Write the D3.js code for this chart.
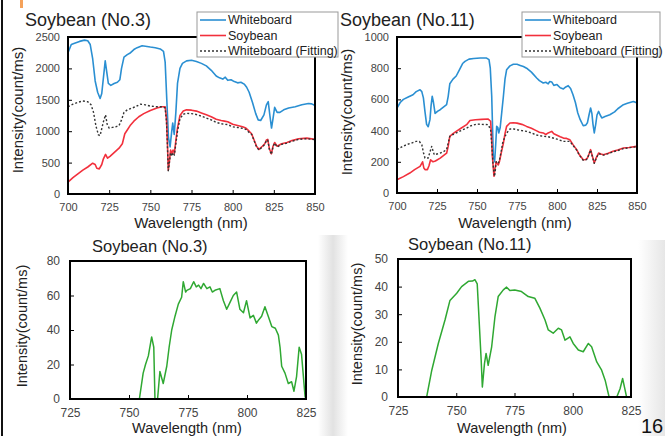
<!DOCTYPE html>
<html lang="en">
<head>
<meta charset="UTF-8">
<title>Soybean spectra</title>
<script src="https://d3js.org/d3.v7.min.js"></script>
<style>
  body { margin: 0; background: #fff; }
  svg { display: block; font-family: "Liberation Sans", Arial, sans-serif; }
  .tick text { fill: #444; }
</style>
</head>
<body>
<svg id="chart" width="665" height="436"></svg>
<script>
// ---- data: [wavelength (nm), intensity (count/ms)] ----
var no3Whiteboard = [[700,2250],[702,2380],[704,2400],[707,2430],[710,2450],[712,2440],[713.5,2380],[715,2150],[716.5,1800],[718,1620],[719.5,1520],[720.5,1600],[721.5,1850],[722.6,2120],[723.5,1950],[724.5,1760],[726,1730],[728,1760],[730,1780],[731.5,1820],[732.5,2000],[734,2180],[736,2220],[738,2250],[740,2300],[742,2330],[745,2360],[748,2350],[750,2340],[753,2330],[756,2310],[758,2270],[759,2100],[760,1500],[761,900],[762,750],[763,1000],[763.6,1130],[764.5,950],[765.5,1300],[766.5,1760],[768,2000],[769.5,2080],[772,2120],[775,2130],[778,2110],[781,2080],[784,2040],[787,1970],[790,1880],[792,1850],[794,1830],[795.5,1860],[797,1810],[799,1820],[801,1790],[803,1770],[805,1780],[807,1750],[808.5,1700],[810,1620],[812,1460],[814,1280],[815.5,1180],[817,1170],[819,1260],[820.5,1420],[821.6,1470],[822.6,1250],[823.6,1050],[824.5,1200],[825.5,1380],[827,1300],[828.7,1300],[831,1340],[834,1370],[838,1390],[842,1420],[846,1440],[848,1435],[850,1410]];
var no3Soybean = [[700,190],[703,260],[706,320],[709,380],[712,430],[715,490],[716.5,470],[717.5,410],[719,400],[720.5,470],[721.5,560],[722.8,630],[724,570],[725.5,600],[728,660],[731,730],[733,800],[734.5,960],[736,1020],[738,1100],[740,1160],[743,1230],[746,1280],[750,1330],[754,1370],[757,1390],[759,1390],[759.8,1200],[760.4,800],[760.9,380],[761.5,500],[762.3,700],[763,640],[763.8,700],[764.6,650],[765.5,850],[766.5,1050],[768,1250],[770,1320],[772,1340],[775,1335],[778,1320],[781,1290],[784,1260],[787,1230],[790,1190],[793,1170],[795,1160],[797,1150],[800,1110],[803,1090],[806,1070],[808,1050],[810,1000],[811.5,960],[813,860],[814.5,760],[816,710],[818,760],[819.5,800],[820.5,860],[821.3,870],[822.3,720],[823.5,640],[824.5,760],[825.5,820],[827,760],[829.7,800],[833,820],[836,850],[840,880],[845,890],[850,870]];
var no3Fitting = [[700,1390],[703,1430],[706,1460],[709,1480],[712,1470],[714,1420],[715.5,1300],[717,1080],[718.5,940],[719.5,930],[720.5,1040],[721.5,1150],[722.8,1260],[723.8,1110],[725,1050],[727,1060],[729,1070],[731,1090],[732.5,1180],[734,1300],[736,1340],[738,1360],[741,1390],[744,1430],[747,1420],[750,1400],[754,1390],[757,1390],[759,1370],[759.8,1150],[760.4,750],[760.9,370],[761.5,480],[762.3,660],[763,600],[763.8,660],[764.6,620],[765.5,800],[766.5,1000],[768,1200],[770,1270],[772,1285],[775,1280],[778,1265],[781,1240],[784,1210],[787,1180],[790,1140],[793,1120],[795,1110],[797,1105],[800,1070],[803,1060],[806,1045],[808,1030],[810,980],[811.5,950],[813,850],[814.5,750],[816,700],[818,750],[819.5,790],[820.5,850],[821.3,860],[822.3,710],[823.5,630],[824.5,750],[825.5,810],[827,750],[829.7,790],[833,810],[836,840],[840,870],[845,880],[850,865]];

var no11Whiteboard = [[700,545],[702,580],[704,600],[707,615],[710,630],[712,650],[714.4,662],[715.5,650],[716.5,610],[717.5,520],[718.5,440],[719.5,425],[720.6,470],[721.3,560],[722,620],[722.8,580],[723.8,510],[725.5,525],[727,534],[729,550],[731,566],[732,620],[733,700],[735,730],[737,750],[739,790],[741,830],[742.5,844],[745,858],[748,862],[752,865],[756,865],[757.5,855],[758.3,800],[759.2,620],[760.2,235],[761,200],[761.8,330],[762.3,427],[763,420],[763.6,385],[764.5,420],[765.5,520],[766.5,620],[767.5,730],[768.5,790],[770.6,815],[772.7,825],[775,825],[777,818],[779,811],[781,800],[784,775],[787.3,737],[789,720],[791.4,705],[793,710],[794.5,700],[795.5,715],[796.7,712],[798,690],[800,695],[802,675],[804,667],[805.5,680],[807,688],[808.5,670],[810,630],[811.5,580],[813,513],[814.5,470],[816.4,431],[818,435],[819,450],[820,500],[821,545],[821.8,510],[822.5,440],[823.3,385],[824.2,440],[825,500],[826,523],[827,500],[828,481],[830,490],[833,502],[836,520],[838,540],[841.5,566],[844,575],[847.7,587],[849,582],[850,575]];
var no11Soybean = [[700,85],[704,105],[708,128],[711,150],[714.4,171],[716,200],[716.8,160],[717.5,150],[719,150],[720,175],[721,213],[722.5,200],[724,205],[727,224],[729,240],[731,255],[732,300],[733,363],[735,380],[737,395],[740,415],[743.5,438],[745.6,465],[749,470],[753,472],[757,474],[758.5,460],[759,380],[759.6,235],[760.6,107],[761.3,160],[762,200],[762.6,190],[763.3,180],[764,200],[765,250],[766.5,320],[767.5,380],[768.5,427],[770.6,449],[772.7,450],[775,448],[778,440],[781,427],[784,415],[787,400],[789,390],[791.4,385],[793,375],[794.5,385],[796.7,395],[798,380],[800,370],[802,360],[804,352],[806,350],[808,342],[810,310],[812.3,278],[814,245],[816.4,213],[818,215],[819,224],[820,250],[821,278],[822,240],[823.3,192],[824.5,225],[826,256],[827.5,250],[829,245],[832,255],[835,267],[838,275],[841.5,288],[845,292],[849.7,299],[850,295]];
var no11Fitting = [[700,278],[703,295],[706,310],[709,320],[712,331],[714,330],[715.5,310],[716.5,260],[717.5,224],[719.5,224],[720.5,260],[721.7,299],[722.5,270],[723.3,245],[725,250],[727,256],[729,265],[731,278],[732,320],[733,363],[735,375],[737,385],[740,400],[743.5,416],[746,430],[749.8,442],[753,440],[757,438],[758.5,406],[759.3,300],[760,190],[760.6,130],[761,107],[761.5,150],[762,200],[762.6,195],[763.3,190],[764,210],[765,260],[766,320],[767.5,363],[769,390],[770.6,410],[773,410],[775,406],[778,400],[781,395],[784,385],[787,372],[791.4,363],[794,362],[796.7,355],[800,345],[804,331],[808,331],[810,305],[812.3,275],[814,242],[816.4,210],[818,212],[819,220],[820,248],[821,275],[822,237],[823.3,190],[824.5,222],[826,252],[827.5,247],[829,243],[832,252],[835,264],[838,272],[841.5,285],[845,290],[849.7,297],[850,293]];

var no3Difference = [[754.4,0],[756,15],[757,20],[758.2,25],[759.6,36],[760.5,30],[761,0],[762.1,0],[763.1,16],[764.5,9],[766,19],[767,30],[768.1,40],[769.5,48],[770.9,55],[772.3,59],[773,68],[774,62],[774.5,63],[776,64],[777.4,68],[778.5,65],[779.5,66],[780.5,64],[781.6,67],[783,64],[784.3,65],[785.3,62],[786.4,63],[788.5,64],[790,57],[791.4,52],[792.8,56],[794.2,60],[795.6,62],[797,52],[798.5,50],[799.8,57],[801.3,47],[802.7,48.5],[804,44],[805,46],[806.2,48],[807.6,53.5],[809,48],[810.5,42],[812,41],[813.3,37],[814,30],[814.7,19],[816.1,15],[817.5,9],[818.9,10],[819.9,4.5],[821,13],[822.1,30],[823.1,26],[824.6,1.5],[825,0]];
var no11Difference = [[737.3,0],[739.5,9.7],[742.3,19.4],[745.2,28],[747.3,35],[750.2,37.6],[752.3,40],[755.2,41.9],[757,42],[758,42.5],[759,41],[759.8,28],[760.7,13.3],[761.2,3.6],[762.1,12],[762.8,15.8],[763.7,11.5],[765.2,18.2],[766.6,29],[768,36.4],[770.2,38.8],[771.6,39.8],[773,38.6],[775.1,38.8],[778,38.2],[780.9,36.4],[783.7,35.8],[785.9,32.2],[788.1,27.9],[789.5,24.3],[791.6,23.1],[793.8,24.9],[795.2,24.3],[796.7,20.6],[798.8,21.8],[800.2,19.4],[802.4,17],[804.5,16.4],[806.7,19.4],[808.1,18.2],[810.3,12.7],[812.4,9.7],[813.9,6.1],[815.6,0],[818.9,0],[820.3,3],[821.4,6.7],[822.5,2.4],[823.1,0]];

var topXTicks = [700, 725, 750, 775, 800, 825, 850];
var bottomXTicks = [725, 750, 775, 800, 825];
var legendNames = ["Whiteboard", "Soybean", "Whiteboard (Fitting)"];

var svg = d3.select("#chart");

// slide background bits
var defs = svg.append("defs");
var g1 = defs.append("linearGradient").attr("id", "band");
g1.append("stop").attr("offset", "0%").attr("stop-color", "#fff");
g1.append("stop").attr("offset", "50%").attr("stop-color", "#e2e2e2");
g1.append("stop").attr("offset", "100%").attr("stop-color", "#fff");
var g2 = defs.append("linearGradient").attr("id", "edge");
g2.append("stop").attr("offset", "0%").attr("stop-color", "#fff");
g2.append("stop").attr("offset", "100%").attr("stop-color", "#e6e6e6");
svg.append("rect").attr("x", 318).attr("y", 235).attr("width", 30).attr("height", 201).attr("fill", "url(#band)");
svg.append("rect").attr("x", 638).attr("y", 240).attr("width", 27).attr("height", 196).attr("fill", "url(#edge)");
svg.append("rect").attr("x", 1).attr("y", 0).attr("width", 2).attr("height", 436).attr("fill", "#111");
svg.append("rect").attr("x", 20).attr("y", 0).attr("width", 3).attr("height", 8).attr("fill", "#f5a25a");

function drawPanel(p) {
  var x = d3.scaleLinear().domain(p.xDomain).range([p.left, p.right]);
  var y = d3.scaleLinear().domain(p.yDomain).range([p.bottom, p.top]);
  var g = svg.append("g");

  g.append("g")
    .attr("transform", "translate(0," + p.bottom + ")")
    .call(d3.axisBottom(x).tickValues(p.xTicks).tickSize(-4).tickPadding(p.xPad).tickFormat(d3.format("d")))
    .call(function(a) { a.select(".domain").remove(); })
    .selectAll("text").style("font-size", p.tickFont + "px");
  g.append("g")
    .attr("transform", "translate(" + p.left + ",0)")
    .call(d3.axisLeft(y).tickValues(p.yTicks).tickSize(-4).tickPadding(p.yPad).tickFormat(d3.format("d")))
    .call(function(a) { a.select(".domain").remove(); })
    .selectAll("text").style("font-size", p.tickFont + "px");

  var clipId = "clip" + p.id;
  defs.append("clipPath").attr("id", clipId).append("rect")
    .attr("x", p.left).attr("y", p.top).attr("width", p.right - p.left).attr("height", p.bottom - p.top);

  var line = d3.line().x(function(d) { return x(d[0]); }).y(function(d) { return y(d[1]); });
  p.series.forEach(function(s) {
    g.append("path")
      .datum(s.data)
      .attr("clip-path", "url(#" + clipId + ")")
      .attr("fill", "none")
      .attr("stroke", s.color)
      .attr("stroke-width", s.width)
      .attr("stroke-dasharray", s.dash || null)
      .attr("stroke-linejoin", "round")
      .attr("d", line);
  });

  g.append("rect")
    .attr("x", p.left).attr("y", p.top)
    .attr("width", p.right - p.left).attr("height", p.bottom - p.top)
    .attr("fill", "none").attr("stroke", "#000").attr("stroke-width", 2);

  g.append("text").attr("x", p.titleX).attr("y", p.titleY)
    .style("font-size", p.titleFont + "px").attr("fill", "#222").text(p.title);
  g.append("text")
    .attr("transform", "translate(" + p.yLabelX + "," + p.yLabelY + ") rotate(-90)")
    .attr("text-anchor", "middle").attr("dy", "0.35em")
    .style("font-size", p.labelFont + "px").attr("fill", "#222")
    .text("Intensity(count/ms)");
  g.append("text").attr("x", p.xLabelX).attr("y", p.xLabelY)
    .attr("text-anchor", "middle")
    .style("font-size", p.labelFont + "px").attr("fill", "#222")
    .text("Wavelength (nm)");

  if (p.legend) {
    var lg = svg.append("g").attr("transform", "translate(" + p.legend.x + "," + p.legend.y + ")");
    lg.append("rect").attr("width", p.legend.w).attr("height", 45)
      .attr("fill", "#fff").attr("stroke", "#999").attr("stroke-width", 1);
    p.series.forEach(function(s, i) {
      var yy = 8 + i * 15.5;
      lg.append("line").attr("x1", 3).attr("x2", 29).attr("y1", yy).attr("y2", yy)
        .attr("stroke", s.color).attr("stroke-width", s.width).attr("stroke-dasharray", s.dash || null);
      lg.append("text").attr("x", 31).attr("y", yy).attr("dy", "0.35em")
        .style("font-size", "12.5px").attr("fill", "#222").text(legendNames[i]);
    });
  }
}

var blue = "#2a8fd2", red = "#f2303c", black = "#333", green = "#2fa832";

drawPanel({
  id: 1, left: 68, right: 315, top: 37, bottom: 194,
  xDomain: [700, 850], yDomain: [0, 2500], xTicks: topXTicks, yTicks: d3.range(0, 2501, 500),
  tickFont: 11, xPad: 9, yPad: 8,
  title: "Soybean (No.3)", titleX: 25, titleY: 26, titleFont: 18,
  yLabelX: 18, yLabelY: 110, xLabelX: 191, xLabelY: 228, labelFont: 15,
  series: [
    { data: no3Whiteboard, color: blue, width: 1.6 },
    { data: no3Soybean, color: red, width: 1.6 },
    { data: no3Fitting, color: black, width: 1.4, dash: "2,2" }
  ],
  legend: { x: 197, y: 12, w: 141 }
});

drawPanel({
  id: 2, left: 397, right: 637, top: 37, bottom: 193,
  xDomain: [700, 850], yDomain: [0, 1000], xTicks: topXTicks, yTicks: d3.range(0, 1001, 200),
  tickFont: 11, xPad: 9, yPad: 8,
  title: "Soybean (No.11)", titleX: 340, titleY: 26, titleFont: 18,
  yLabelX: 347, yLabelY: 112, xLabelX: 515, xLabelY: 228, labelFont: 15,
  series: [
    { data: no11Whiteboard, color: blue, width: 1.6 },
    { data: no11Soybean, color: red, width: 1.6 },
    { data: no11Fitting, color: black, width: 1.4, dash: "2,2" }
  ],
  legend: { x: 522, y: 12, w: 138 }
});

drawPanel({
  id: 3, left: 70, right: 306, top: 261, bottom: 399,
  xDomain: [725, 825], yDomain: [0, 80], xTicks: bottomXTicks, yTicks: d3.range(0, 81, 20),
  tickFont: 12, xPad: 9, yPad: 10,
  title: "Soybean (No.3)", titleX: 92, titleY: 252, titleFont: 16.5,
  yLabelX: 22, yLabelY: 326, xLabelX: 187, xLabelY: 433, labelFont: 14.5,
  series: [{ data: no3Difference, color: green, width: 1.5 }]
});

drawPanel({
  id: 4, left: 398, right: 631, top: 259, bottom: 397,
  xDomain: [725, 825], yDomain: [0, 50], xTicks: bottomXTicks, yTicks: d3.range(0, 51, 10),
  tickFont: 12, xPad: 9, yPad: 10,
  title: "Soybean (No.11)", titleX: 408, titleY: 250, titleFont: 16.5,
  yLabelX: 357, yLabelY: 324, xLabelX: 512, xLabelY: 433, labelFont: 14.5,
  series: [{ data: no11Difference, color: green, width: 1.5 }]
});

svg.append("text").attr("x", 641).attr("y", 433)
  .style("font-size", "20px").attr("fill", "#111").text("16");
</script>
</body>
</html>
